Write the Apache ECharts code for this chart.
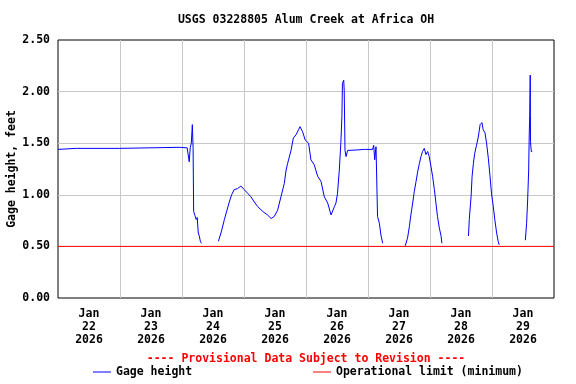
<!DOCTYPE html>
<html>
<head>
<meta charset="utf-8">
<script src="https://cdn.jsdelivr.net/npm/echarts@6/dist/echarts.min.js"></script>
<style>
html,body{margin:0;padding:0;background:#fff;}
#chart{width:576px;height:384px;}
</style>
</head>
<body>
<div id="chart"></div>
<script>
// Day labels (centered on each day)
const dayLabels = ['Jan\n22\n2026','Jan\n23\n2026','Jan\n24\n2026','Jan\n25\n2026','Jan\n26\n2026','Jan\n27\n2026','Jan\n28\n2026','Jan\n29\n2026'];
const yTicks = [0, 0.5, 1.0, 1.5, 2.0, 2.5];

// Gage height: hours since Jan 22 00:00, value in feet (null = gap)
const gageHours = [
  0, 7.1, 23.7, 35.3, 47.0, 50.0, 50.8, 51.2, 51.6, 52.0, 52.3, 52.5, 53.0, 53.5, 53.9, 54.3, 54.7, 55.1, 55.5,
  56,
  62.1, 63.2, 64.4, 65.4, 66.3, 67.2, 68.2, 69.5, 70.8, 72.1, 73.4, 74.7, 76.0, 77.3, 79.2, 81.1, 82.5, 83.7, 85.0,
  86.3, 87.6, 88.3, 88.9, 90.2, 91.1, 92.1, 93.1, 93.7, 94.7, 95.7, 97.0, 97.9, 99.2, 100.5, 101.8, 103.1, 104.4,
  105.7, 106.3, 107.0, 107.6, 108.2, 108.9, 109.5, 109.9, 110.1, 110.6, 110.8, 111.1, 111.5, 112.1, 115.4, 118.6,
  121.8, 122.2, 122.6, 123.1, 123.5, 123.7, 124.4, 125.0, 125.7,
  126,
  134.4, 135.3, 136.0, 136.6, 137.3, 137.9, 138.6, 139.2, 139.9, 140.5, 141.1, 141.8, 142.4, 143.1, 143.7, 144.4,
  145.0, 145.7, 146.3, 146.9, 147.6, 148.3, 148.6,
  150,
  158.9, 159.2, 159.9, 160.3, 160.8, 161.3, 162.0, 162.7, 163.4, 164.1, 164.6, 165.3, 165.9, 166.6, 167.2, 167.8,
  168.5, 169.1, 169.8, 170.4, 170.8,
  172,
  180.9, 181.4, 181.8, 182.2, 182.4, 182.6, 182.8, 182.9, 183.2, 183.6
];
const gageFeet = [
  1.44, 1.45, 1.45, 1.455, 1.46, 1.455, 1.32, 1.46, 1.50, 1.68, 1.45, 0.84, 0.80, 0.76, 0.78, 0.63, 0.60, 0.55, 0.53,
  null,
  0.55, 0.64, 0.76, 0.85, 0.93, 1.00, 1.05, 1.06, 1.085, 1.05, 1.015, 0.98, 0.93, 0.886, 0.84, 0.805, 0.77, 0.79, 0.85,
  0.98, 1.11, 1.24, 1.305, 1.43, 1.55, 1.58, 1.63, 1.66, 1.61, 1.53, 1.50, 1.34, 1.29, 1.18, 1.13, 0.98, 0.92,
  0.805, 0.82, 0.886, 0.92, 1.015, 1.24, 1.51, 1.76, 2.08, 2.11, 2.01, 1.43, 1.37, 1.43, 1.434, 1.44,
  1.44, 1.48, 1.34, 1.466, 1.45, 0.79, 0.725, 0.61, 0.53,
  null,
  0.505, 0.58, 0.69, 0.805, 0.92, 1.03, 1.13, 1.22, 1.305, 1.37, 1.42, 1.45, 1.39, 1.42, 1.37, 1.27,
  1.18, 1.05, 0.92, 0.79, 0.68, 0.60, 0.53,
  null,
  0.60, 0.76, 0.98, 1.18, 1.305, 1.40, 1.48, 1.56, 1.68, 1.70, 1.63, 1.60, 1.50, 1.35, 1.19, 1.015,
  0.886, 0.757, 0.63, 0.547, 0.515,
  null,
  0.56, 0.725, 0.95, 1.24, 1.56, 1.77, 2.16, 1.515, 1.42, 1.42
];
const limitHours = [0, 192];
const limitFeet = [0.5, 0.5];

const FONT = '"DejaVu Sans Mono", "Liberation Mono", monospace';
const FS = 11.5;

const chart = echarts.init(document.getElementById('chart'), null, {renderer: 'canvas'});
const option = {
  animation: false,
  backgroundColor: '#fff',
  grid: {left: 58, top: 40, width: 496, height: 258, show: true, borderColor: '#000', borderWidth: 1,
    backgroundColor: 'transparent', containLabel: false, outerBoundsMode: 'none'},
  legend: [
    {data: ['Gage height'], left: 93, top: 366, itemWidth: 18, itemHeight: 1, icon: 'rect',
     textStyle: {fontFamily: FONT, fontSize: FS, fontWeight: 'bold', color: '#000'}, padding: 0, itemGap: 6},
    {data: ['Operational limit (minimum)'], left: 313, top: 366, itemWidth: 18, itemHeight: 1, icon: 'rect',
     textStyle: {fontFamily: FONT, fontSize: FS, fontWeight: 'bold', color: '#000'}, padding: 0}
  ],
  graphic: [
    {type: 'text', x: 306, y: 14,
     style: {text: 'USGS 03228805 Alum Creek at Africa OH', fill: '#000',
       font: 'bold ' + FS + 'px ' + FONT, textAlign: 'center', textVerticalAlign: 'top'}},
    {type: 'text', x: 306, y: 353,
     style: {text: '---- Provisional Data Subject to Revision ----', fill: '#ff0000',
       font: 'bold ' + FS + 'px ' + FONT, textAlign: 'center', textVerticalAlign: 'top'}}
  ],
  xAxis: [
    {type: 'value', min: 0, max: 192, interval: 24,
     axisLine: {show: false}, axisTick: {show: false}, axisLabel: {show: false},
     splitLine: {show: true, showMinLine: false, showMaxLine: false, lineStyle: {color: '#c8c8c8', width: 1}}},
    {type: 'category', data: dayLabels, boundaryGap: true, position: 'bottom',
     axisLine: {show: false}, axisTick: {show: false}, splitLine: {show: false},
     axisLabel: {margin: 10, fontFamily: FONT, fontSize: FS, fontWeight: 'bold', color: '#000', lineHeight: 13, interval: 0}}
  ],
  yAxis: {
    type: 'value', min: 0, max: 2.5, interval: 0.5,
    name: 'Gage height, feet', nameLocation: 'middle', nameGap: 40, nameMoveOverlap: false,
    nameTextStyle: {fontFamily: FONT, fontSize: FS, fontWeight: 'bold', color: '#000'},
    axisLine: {show: false}, axisTick: {show: false},
    axisLabel: {margin: 8, fontFamily: FONT, fontSize: FS, fontWeight: 'bold', color: '#000',
      formatter: v => v.toFixed(2)},
    splitLine: {show: true, showMinLine: false, showMaxLine: false, lineStyle: {color: '#c8c8c8', width: 1}}
  },
  series: [
    {name: 'Gage height', type: 'line', xAxisIndex: 0, showSymbol: false, connectNulls: false,
     lineStyle: {color: '#0000ff', width: 1}, itemStyle: {color: '#0000ff'},
     data: gageHours.map((h, i) => [h, gageFeet[i]])},
    {name: 'Operational limit (minimum)', type: 'line', xAxisIndex: 0, showSymbol: false,
     lineStyle: {color: '#ff0000', width: 1}, itemStyle: {color: '#ff0000'},
     data: limitHours.map((h, i) => [h, limitFeet[i]])}
  ]
};
chart.setOption(option);
</script>
</body>
</html>
